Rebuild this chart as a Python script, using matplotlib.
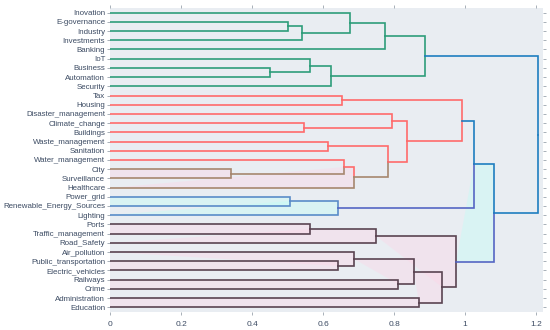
import matplotlib.pyplot as plt
from matplotlib.patches import Polygon

# leaf labels, top to bottom
labels = ["Inovation", "E-governance", "Industry", "Investments", "Banking", "IoT",
          "Business", "Automation", "Security", "Tax", "Housing", "Disaster_management",
          "Climate_change", "Buildings", "Waste_management", "Sanitation",
          "Water_management", "City", "Surveillance", "Healthcare", "Power_grid",
          "Renewable_Energy_Sources", "Lighting", "Ports", "Traffic_management",
          "Road_Safety", "Air_pollution", "Public_transportation", "Electric_vehicles",
          "Railways", "Crime", "Administration", "Education"]

# merges: node 33 onwards = (child a, child b, distance)
merge_a = [1, 33, 0, 35, 6, 5, 38, 36, 9, 12, 11, 14, 17, 16, 46, 44, 43, 41,
           20, 51, 50, 23, 54, 27, 26, 29, 57, 31, 59, 55, 53, 40]
merge_b = [2, 3, 34, 4, 7, 37, 8, 39, 10, 13, 42, 15, 18, 45, 19, 47, 48, 49,
           21, 22, 52, 24, 25, 28, 56, 30, 58, 32, 60, 61, 62, 63]
merge_h = [0.500, 0.540, 0.676, 0.775, 0.451, 0.562, 0.623, 0.888, 0.653, 0.545,
           0.794, 0.615, 0.341, 0.660, 0.686, 0.784, 0.836, 0.992, 0.507, 0.643,
           1.026, 0.564, 0.748, 0.642, 0.688, 0.812, 0.855, 0.871, 0.936, 0.973,
           1.080, 1.205]

#colors
green = "#2e9d7a"
red = "#ff6b6b"
brown = "#a6876f"
steel = "#5a8cc8"
bluep = "#5566c4"
blue = "#1f7ec0"
dark = "#5a4452"
pink = "#ffd2e6"
cyan = "#bcfff7"

# color of the arm leading from each node up to its parent
leaf_col = [green] * 9 + [red] * 8 + [brown] * 3 + [steel] * 3 + [dark] * 10
node_col = [green] * 7 + [blue] + [red] * 4 + [brown, red, brown, red, red, blue] \
    + [steel, bluep, blue] + [dark] * 8 + [bluep, blue, blue]
fill_col = {45: pink, 47: pink, 51: cyan, 52: cyan, 63: cyan}
for n in range(54, 63):
    fill_col[n] = pink

arm_col = leaf_col + node_col
n_leaf = len(labels)
xs = [0.0] * n_leaf
ys = [5 + 10 * i for i in range(n_leaf)]

fig = plt.figure(figsize=(5.5, 3.3), dpi=100)
ax = fig.add_axes([0.2, 0.055, 0.7864, 0.9206])
ax.set_facecolor("#e9edf2")

for k in range(len(merge_h)):
    a, b, h = merge_a[k], merge_b[k], merge_h[k]
    node = n_leaf + k
    ya, yb = ys[a], ys[b]
    ym = (ya + yb) / 2
    if node in fill_col:
        ax.add_patch(Polygon([(xs[a], ya), (h, ya), (h, yb), (xs[b], yb)],
                             closed=True, facecolor=fill_col[node], alpha=0.35,
                             edgecolor="none", zorder=1))
    ax.plot([xs[a], h, h], [ya, ya, ym], color=arm_col[a], lw=1.2, zorder=3,
            solid_joinstyle="miter")
    ax.plot([xs[b], h, h], [yb, yb, ym], color=arm_col[b], lw=1.2, zorder=3,
            solid_joinstyle="miter")
    xs.append(h)
    ys.append(ym)

ax.set_xlim(0, 1.218)
ax.set_ylim(10 * n_leaf, 0)

txt = "#3c4b63"
ax.set_yticks(ys[:n_leaf])
ax.set_yticklabels(labels, fontsize=5.7, color=txt, family="Liberation Sans")
ax.set_xticks([0, 0.2, 0.4, 0.6, 0.8, 1, 1.2])
ax.set_xticklabels(["0", "0.2", "0.4", "0.6", "0.8", "1", "1.2"], fontsize=6.0,
                   color=txt, family="Liberation Sans")
ax.tick_params(axis="y", left=True, right=True, length=2.5, width=0.6, color="#9aa3ad", pad=1)
ax.tick_params(axis="x", bottom=True, top=True, length=2.5, width=0.6, color="#9aa3ad",
               pad=4, direction="out")
for s in ax.spines.values():
    s.set_visible(False)

plt.savefig("out.png", dpi=100)
